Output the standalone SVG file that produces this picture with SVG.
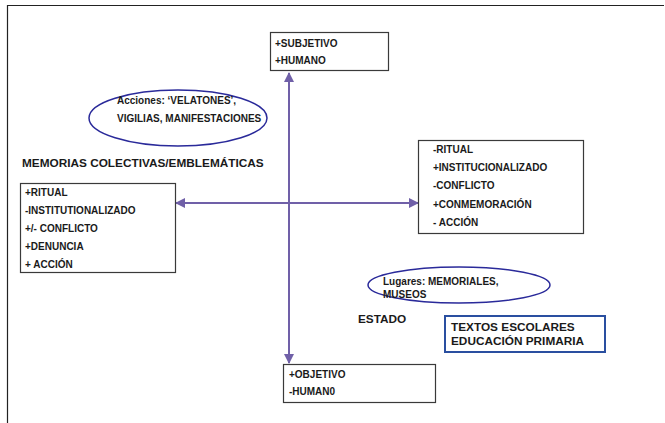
<svg xmlns="http://www.w3.org/2000/svg" width="665" height="423" viewBox="0 0 665 423">
<style>
text{font-family:"Liberation Sans",Arial,sans-serif;font-weight:bold;font-size:10px;fill:#1a1a1a}
.big{font-size:11.8px}
.box{fill:#fff;stroke:#3a3a3a;stroke-width:1.2}
.ell{fill:none;stroke:#2a2a9a;stroke-width:1.5}
.ax{stroke:#7060a8;stroke-width:2;fill:none}
</style>
<defs>
<marker id="ah" viewBox="0 0 10 10" refX="9" refY="5" markerWidth="5" markerHeight="5" orient="auto-start-reverse">
<path d="M0,0 L10,5 L0,10 z" fill="#7060a8"/>
</marker>
</defs>
<rect width="665" height="423" fill="#fff"/>
<path d="M7.5,423 V5.5 H664" fill="none" stroke="#222" stroke-width="1.2"/>
<g id="connectors">
<line class="ax" x1="289" y1="73" x2="289" y2="363" marker-start="url(#ah)" marker-end="url(#ah)"/>
<line class="ax" x1="176" y1="203" x2="418" y2="203" marker-start="url(#ah)" marker-end="url(#ah)"/>
</g>
<g id="top">
<rect class="box" x="270.5" y="32.5" width="118" height="38"/>
<text x="275" y="47">+SUBJETIVO</text>
<text x="275" y="64">+HUMANO</text>
</g>
<g id="acciones">
<ellipse class="ell" cx="178" cy="118" rx="89" ry="28"/>
<text x="117" y="104">Acciones: ‘VELATONES’,</text>
<text x="117" y="122">VIGILIAS, MANIFESTACIONES</text>
</g>
<g id="memorias">
<text class="big" x="22" y="167">MEMORIAS COLECTIVAS/EMBLEMÁTICAS</text>
</g>
<g id="left">
<rect class="box" x="20.5" y="183.5" width="155" height="89"/>
<text x="25" y="196">+RITUAL</text>
<text x="25" y="214">-INSTITUTIONALIZADO</text>
<text x="25" y="232">+/- CONFLICTO</text>
<text x="25" y="250">+DENUNCIA</text>
<text x="25" y="268">+ ACCIÓN</text>
</g>
<g id="right">
<rect class="box" x="418.5" y="140.5" width="165" height="93"/>
<text x="433" y="153">-RITUAL</text>
<text x="433" y="171">+INSTITUCIONALIZADO</text>
<text x="433" y="189">-CONFLICTO</text>
<text x="433" y="208">+CONMEMORACIÓN</text>
<text x="433" y="226">- ACCIÓN</text>
</g>
<g id="lugares">
<ellipse class="ell" cx="459" cy="285" rx="91" ry="18"/>
<text x="383" y="285">Lugares: MEMORIALES,</text>
<text x="383" y="298">MUSEOS</text>
</g>
<g id="estado">
<text class="big" x="358" y="323">ESTADO</text>
</g>
<g id="textos">
<rect x="445" y="316" width="160" height="36" fill="#fff" stroke="#2a4fa0" stroke-width="2"/>
<text class="big" x="451" y="331">TEXTOS ESCOLARES</text>
<text class="big" x="451" y="345">EDUCACIÓN PRIMARIA</text>
</g>
<g id="bottom">
<rect class="box" x="283.5" y="364.5" width="152" height="38"/>
<text x="289" y="378">+OBJETIVO</text>
<text x="289" y="395">-HUMAN0</text>
</g>
</svg>
